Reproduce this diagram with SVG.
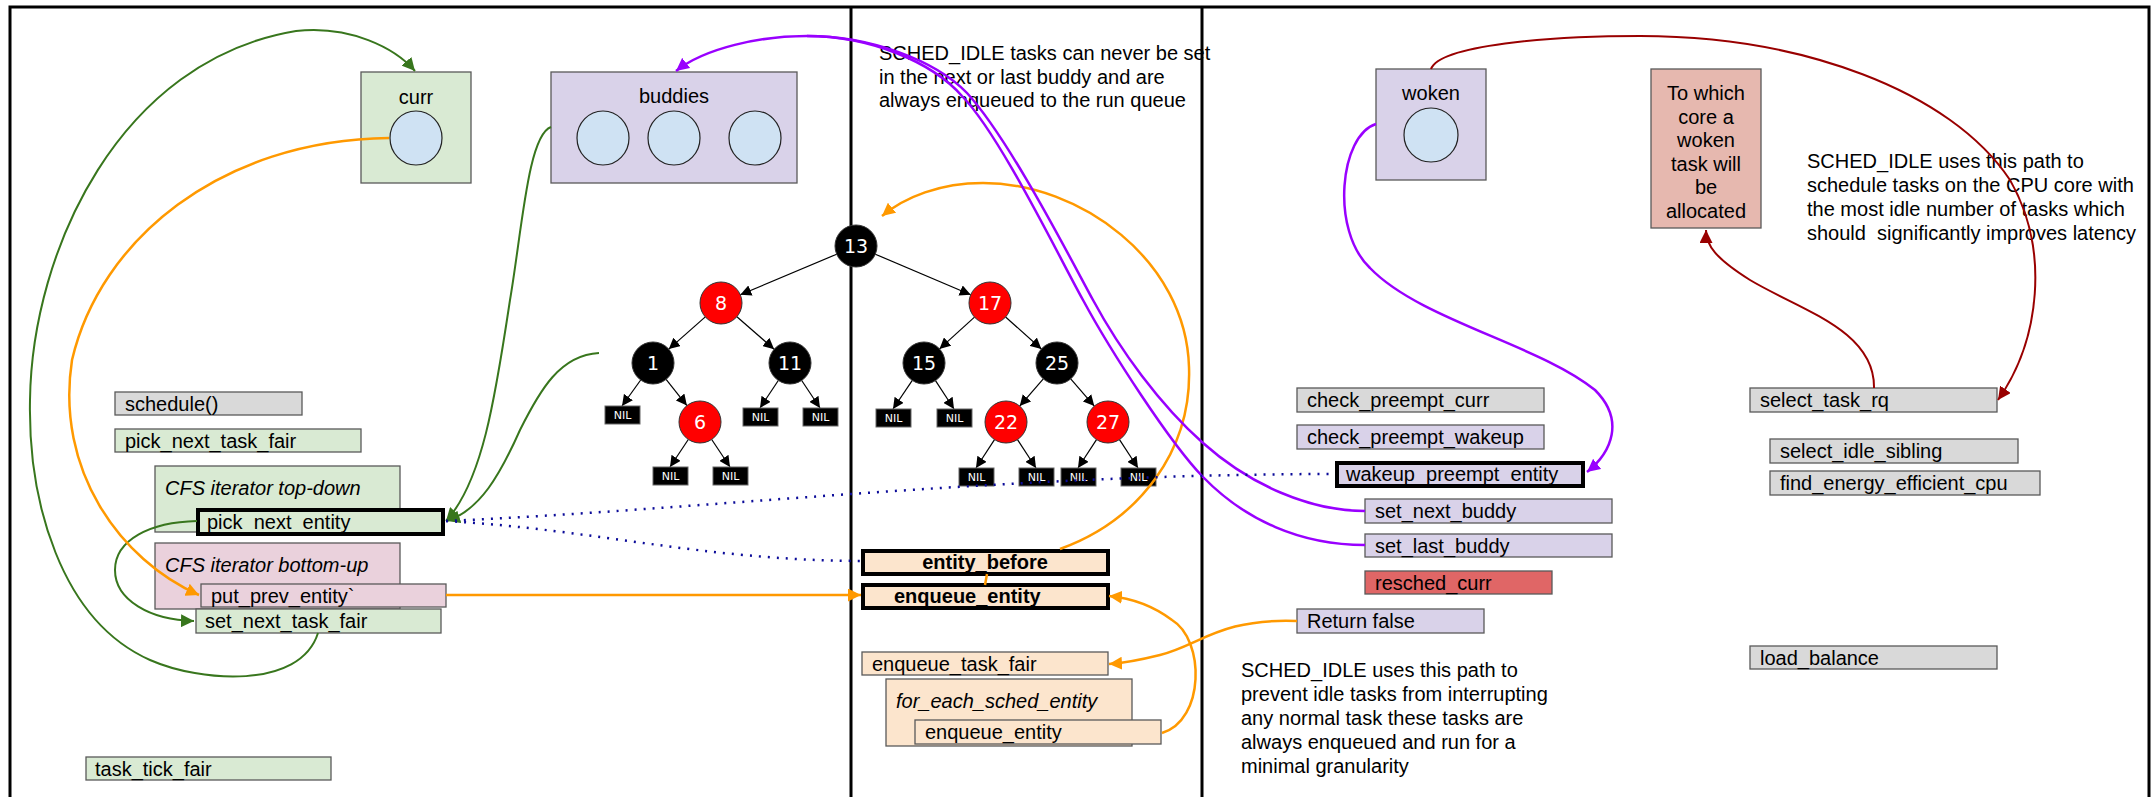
<svg xmlns="http://www.w3.org/2000/svg" width="2152" height="797" viewBox="0 0 2152 797">
<style>
.t{font-family:"Liberation Sans",Arial,sans-serif;font-size:20px;fill:#000}
.it{font-style:italic}
.bd{font-weight:bold}
.mid{text-anchor:middle}
.pre{white-space:pre}
.bx{stroke:#595959;stroke-width:1.3}
.tk{stroke:#000;stroke-width:4}
.gr{fill:#d9d9d9}.gn{fill:#d9ead3}.pu{fill:#d9d2e9}.pk{fill:#ead1dc}.pe{fill:#fce5cd}.rd{fill:#e06666}.sa{fill:#e6b8af}
.cir{fill:#cfe2f3;stroke:#222;stroke-width:1.2}
.nb{fill:#000;stroke:#333;stroke-width:1}
.nr{fill:#ff0000;stroke:#333;stroke-width:1}
.nt{font-family:"DejaVu Sans",sans-serif;font-size:19px;fill:#fff;text-anchor:middle}
.nil{fill:#000;stroke:#666;stroke-width:1}
.nilt{font-family:"DejaVu Sans",sans-serif;font-size:11px;fill:#fff;text-anchor:middle}
.te{stroke:#000;stroke-width:1.2;fill:none;marker-end:url(#ak)}
.cg{stroke:#38761d;stroke-width:2;fill:none}
.co{stroke:#ff9900;stroke-width:2.5;fill:none}
.cp{stroke:#9900ff;stroke-width:2.5;fill:none}
.cr{stroke:#990000;stroke-width:2;fill:none}
.cd{stroke:#0b0b99;stroke-width:2.5;fill:none;stroke-dasharray:2 7}
</style>
<defs>
<marker id="ak" viewBox="0 0 10 10" refX="10" refY="5" markerWidth="11" markerHeight="11" markerUnits="userSpaceOnUse" orient="auto"><path d="M0,0 L10,5 L0,10 z" fill="#000"/></marker>
<marker id="ag" viewBox="0 0 10 10" refX="10" refY="5" markerWidth="13" markerHeight="13" markerUnits="userSpaceOnUse" orient="auto"><path d="M0,0 L10,5 L0,10 z" fill="#38761d"/></marker>
<marker id="ao" viewBox="0 0 10 10" refX="10" refY="5" markerWidth="13" markerHeight="13" markerUnits="userSpaceOnUse" orient="auto"><path d="M0,0 L10,5 L0,10 z" fill="#ff9900"/></marker>
<marker id="ap" viewBox="0 0 10 10" refX="10" refY="5" markerWidth="13" markerHeight="13" markerUnits="userSpaceOnUse" orient="auto"><path d="M0,0 L10,5 L0,10 z" fill="#9900ff"/></marker>
<marker id="ar" viewBox="0 0 10 10" refX="10" refY="5" markerWidth="13" markerHeight="13" markerUnits="userSpaceOnUse" orient="auto"><path d="M0,0 L10,5 L0,10 z" fill="#990000"/></marker>
</defs>
<rect x="0" y="0" width="2152" height="797" fill="#fff"/>
<g id="frame" fill="none" stroke="#000" stroke-width="3">
<rect x="10" y="7" width="2139" height="800"/>
<line x1="851" y1="7" x2="851" y2="800"/>
<line x1="1202" y1="7" x2="1202" y2="800"/>
</g>

<g id="curr"><rect class="bx gn" x="361" y="72" width="110" height="111"/><text class="t mid" x="416" y="104">curr</text><ellipse class="cir" cx="416" cy="138" rx="26" ry="27"/></g>
<g id="buddies"><rect class="bx pu" x="551" y="72" width="246" height="111"/><text class="t mid" x="674" y="103">buddies</text><ellipse class="cir" cx="603" cy="138" rx="26" ry="27"/><ellipse class="cir" cx="674" cy="138" rx="26" ry="27"/><ellipse class="cir" cx="755" cy="138" rx="26" ry="27"/></g>
<g id="woken"><rect class="bx pu" x="1376" y="69" width="110" height="111"/><text class="t mid" x="1431" y="100">woken</text><ellipse class="cir" cx="1431" cy="135" rx="27" ry="27"/></g>
<g id="core-box"><rect class="bx sa" x="1651" y="69" width="110" height="159"/>
<text class="t mid" x="1706"><tspan x="1706" y="100">To which</tspan><tspan x="1706" y="124">core a</tspan><tspan x="1706" y="147">woken</tspan><tspan x="1706" y="171">task will</tspan><tspan x="1706" y="194">be</tspan><tspan x="1706" y="218">allocated</tspan></text></g>

<g id="note-top"><text class="t"><tspan x="879" y="60">SCHED_IDLE tasks can never be set</tspan><tspan x="879" y="84">in the next or last buddy and are</tspan><tspan x="879" y="107">always enqueued to the run queue</tspan></text></g>
<g id="note-right"><text class="t pre"><tspan x="1807" y="168">SCHED_IDLE uses this path to</tspan><tspan x="1807" y="192">schedule tasks on the CPU core with</tspan><tspan x="1807" y="216">the most idle number of tasks which</tspan><tspan x="1807" y="240">should  significantly improves latency</tspan></text></g>
<g id="note-bottom"><text class="t"><tspan x="1241" y="677">SCHED_IDLE uses this path to</tspan><tspan x="1241" y="701">prevent idle tasks from interrupting</tspan><tspan x="1241" y="725">any normal task these tasks are</tspan><tspan x="1241" y="749">always enqueued and run for a</tspan><tspan x="1241" y="773">minimal granularity</tspan></text></g>

<g id="schedule"><rect class="bx gr" x="115" y="392" width="187" height="23"/><text class="t" x="125" y="411">schedule()</text></g>
<g id="pick_next_task_fair"><rect class="bx gn" x="115" y="429" width="246" height="23"/><text class="t" x="125" y="448">pick_next_task_fair</text></g>
<g id="cfs-top-down"><rect class="bx gn" x="155" y="466" width="245" height="66"/><text class="t it" x="165" y="495">CFS iterator top-down</text></g>
<g id="pick_next_entity"><rect class="tk gn" x="198" y="510" width="245" height="24"/><text class="t" x="207" y="529">pick_next_entity</text></g>
<g id="cfs-bottom-up"><rect class="bx pk" x="155" y="543" width="245" height="66"/><text class="t it" x="165" y="572">CFS iterator bottom-up</text></g>
<g id="put_prev_entity"><rect class="bx pk" x="201" y="584" width="245" height="23"/><text class="t" x="211" y="603">put_prev_entity`</text></g>
<g id="set_next_task_fair"><rect class="bx gn" x="196" y="609" width="245" height="24"/><text class="t" x="205" y="628">set_next_task_fair</text></g>
<g id="task_tick_fair"><rect class="bx gn" x="86" y="757" width="245" height="23"/><text class="t" x="95" y="776">task_tick_fair</text></g>

<g id="entity_before"><rect class="tk pe" x="863" y="551" width="245" height="23"/><text class="t bd mid" x="985" y="569">entity_before</text></g>
<g id="enqueue_entity_main"><rect class="tk pe" x="863" y="585" width="245" height="23"/><text class="t bd" x="894" y="603">enqueue_entity</text></g>
<g id="enqueue_task_fair"><rect class="bx pe" x="862" y="652" width="246" height="23"/><text class="t" x="872" y="671">enqueue_task_fair</text></g>
<g id="for_each_sched_entity"><rect class="bx pe" x="886" y="679" width="246" height="67"/><text class="t it" x="896" y="708">for_each_sched_entity</text></g>
<g id="enqueue_entity_inner"><rect class="bx pe" x="915" y="720" width="246" height="24"/><text class="t" x="925" y="739">enqueue_entity</text></g>

<g id="check_preempt_curr"><rect class="bx gr" x="1297" y="388" width="247" height="24"/><text class="t" x="1307" y="407">check_preempt_curr</text></g>
<g id="check_preempt_wakeup"><rect class="bx pu" x="1297" y="425" width="247" height="24"/><text class="t" x="1307" y="444">check_preempt_wakeup</text></g>
<g id="wakeup_preempt_entity"><rect class="tk pu" x="1337" y="463" width="246" height="23"/><text class="t" x="1346" y="481">wakeup_preempt_entity</text></g>
<g id="set_next_buddy"><rect class="bx pu" x="1365" y="499" width="247" height="24"/><text class="t" x="1375" y="518">set_next_buddy</text></g>
<g id="set_last_buddy"><rect class="bx pu" x="1365" y="534" width="247" height="23"/><text class="t" x="1375" y="553">set_last_buddy</text></g>
<g id="resched_curr"><rect class="bx rd" x="1365" y="571" width="187" height="23"/><text class="t" x="1375" y="590">resched_curr</text></g>
<g id="return_false"><rect class="bx pu" x="1297" y="609" width="187" height="24"/><text class="t" x="1307" y="628">Return false</text></g>

<g id="select_task_rq"><rect class="bx gr" x="1750" y="388" width="247" height="24"/><text class="t" x="1760" y="407">select_task_rq</text></g>
<g id="select_idle_sibling"><rect class="bx gr" x="1770" y="439" width="248" height="24"/><text class="t" x="1780" y="458">select_idle_sibling</text></g>
<g id="find_energy_efficient_cpu"><rect class="bx gr" x="1770" y="471" width="270" height="24"/><text class="t" x="1780" y="490">find_energy_efficient_cpu</text></g>
<g id="load_balance"><rect class="bx gr" x="1750" y="646" width="247" height="23"/><text class="t" x="1760" y="665">load_balance</text></g>

<g id="rbtree">
<g id="tree-edges">
<line class="te" x1="836.7" y1="254.2" x2="740.3" y2="294.8"/>
<line class="te" x1="875.3" y1="254.2" x2="970.7" y2="294.8"/>
<line class="te" x1="705.3" y1="316.9" x2="668.8" y2="349.1"/>
<line class="te" x1="736.9" y1="316.8" x2="774.1" y2="349.2"/>
<line class="te" x1="640.7" y1="380" x2="622" y2="406"/>
<line class="te" x1="666.1" y1="379.4" x2="686.9" y2="405.6"/>
<line class="te" x1="778.3" y1="380.5" x2="760" y2="408"/>
<line class="te" x1="801.7" y1="380.5" x2="820" y2="408"/>
<line class="te" x1="688.3" y1="439.5" x2="670" y2="467"/>
<line class="te" x1="711.7" y1="439.5" x2="730" y2="467"/>
<line class="te" x1="974.5" y1="317.1" x2="939.5" y2="348.9"/>
<line class="te" x1="1005.6" y1="317" x2="1041.4" y2="349"/>
<line class="te" x1="912.3" y1="380.4" x2="893" y2="409"/>
<line class="te" x1="935.5" y1="380.6" x2="954" y2="409"/>
<line class="te" x1="1043.3" y1="378.9" x2="1019.7" y2="406.1"/>
<line class="te" x1="1070.7" y1="378.9" x2="1094.3" y2="406.1"/>
<line class="te" x1="994.5" y1="439.6" x2="976" y2="468"/>
<line class="te" x1="1017.5" y1="439.6" x2="1036" y2="468"/>
<line class="te" x1="1096.5" y1="439.6" x2="1078" y2="468"/>
<line class="te" x1="1119.5" y1="439.6" x2="1138" y2="468"/>
</g>
<g id="n13"><circle class="nb" cx="856" cy="246" r="21"/><text class="nt" x="856" y="253">13</text></g>
<g id="n8"><circle class="nr" cx="721" cy="303" r="21"/><text class="nt" x="721" y="310">8</text></g>
<g id="n17"><circle class="nr" cx="990" cy="303" r="21"/><text class="nt" x="990" y="310">17</text></g>
<g id="n1"><circle class="nb" cx="653" cy="363" r="21"/><text class="nt" x="653" y="370">1</text></g>
<g id="n11"><circle class="nb" cx="790" cy="363" r="21"/><text class="nt" x="790" y="370">11</text></g>
<g id="n15"><circle class="nb" cx="924" cy="363" r="21"/><text class="nt" x="924" y="370">15</text></g>
<g id="n25"><circle class="nb" cx="1057" cy="363" r="21"/><text class="nt" x="1057" y="370">25</text></g>
<g id="n6"><circle class="nr" cx="700" cy="422" r="21"/><text class="nt" x="700" y="429">6</text></g>
<g id="n22"><circle class="nr" cx="1006" cy="422" r="21"/><text class="nt" x="1006" y="429">22</text></g>
<g id="n27"><circle class="nr" cx="1108" cy="422" r="21"/><text class="nt" x="1108" y="429">27</text></g>
<g id="nils">
<rect class="nil" x="605" y="406" width="35" height="18"/><text class="nilt" x="622.5" y="419">NIL</text>
<rect class="nil" x="743" y="408" width="35" height="18"/><text class="nilt" x="760.5" y="421">NIL</text>
<rect class="nil" x="803" y="408" width="35" height="18"/><text class="nilt" x="820.5" y="421">NIL</text>
<rect class="nil" x="653" y="467" width="35" height="18"/><text class="nilt" x="670.5" y="480">NIL</text>
<rect class="nil" x="713" y="467" width="35" height="18"/><text class="nilt" x="730.5" y="480">NIL</text>
<rect class="nil" x="876" y="409" width="35" height="18"/><text class="nilt" x="893.5" y="422">NIL</text>
<rect class="nil" x="937" y="409" width="35" height="18"/><text class="nilt" x="954.5" y="422">NIL</text>
<rect class="nil" x="959" y="468" width="35" height="18"/><text class="nilt" x="976.5" y="481">NIL</text>
<rect class="nil" x="1019" y="468" width="35" height="18"/><text class="nilt" x="1036.5" y="481">NIL</text>
<rect class="nil" x="1061" y="468" width="35" height="18"/><text class="nilt" x="1078.5" y="481">NIL</text>
<rect class="nil" x="1121" y="468" width="35" height="18"/><text class="nilt" x="1138.5" y="481">NIL</text>
</g>
</g>

<g id="connectors">
<path class="cg" marker-end="url(#ag)" d="M318,633 C300,690 200,682 150,660 C60,620 28,500 30,400 C32,250 120,60 296,31 C350,25 395,48 415,71"/>
<path class="cg" marker-end="url(#ag)" d="M197,521 C150,522 115,540 115,570 C115,600 150,620 194,621"/>
<path class="cg" marker-end="url(#ag)" d="M551,127 C528,135 522,230 510,300 C495,400 482,482 446,521"/>
<path class="cg" marker-end="url(#ag)" d="M599,353 C560,355 540,390 520,430 C500,475 480,510 447,521"/>
<path class="co" marker-end="url(#ao)" d="M389,138 C220,140 100,240 72,360 C55,470 120,560 199,595"/>
<path class="co" marker-end="url(#ao)" d="M446,595 L861,595"/>
<path class="co" marker-end="url(#ao)" d="M1060,549 C1140,520 1192,450 1189,367 C1186,260 1080,183 983,183 C940,183 905,197 882,216"/>
<path class="co" d="M987,574 L985,585"/>
<path class="co" marker-end="url(#ao)" d="M1162,733 C1205,720 1205,640 1172,620 C1152,605 1130,598 1109,596"/>
<path class="co" marker-end="url(#ao)" d="M1297,621 C1220,618 1200,645 1160,655 C1140,660 1125,663 1109,664"/>
<path class="cp" marker-end="url(#ap)" d="M1365,511 C1310,511 1250,485 1203,443 C1160,405 1120,350 1093,300 C1070,258 1010,140 967,93 C935,60 870,36 807,36 C760,36 705,48 676,71"/>
<path class="cp" d="M1365,545 C1300,545 1245,520 1203,477 C1170,443 1110,350 1083,300 C1058,255 1000,135 962,96 C932,62 870,36 807,36"/>
<path class="cp" marker-end="url(#ap)" d="M1376,124 C1340,135 1330,230 1370,268 C1420,320 1540,345 1595,390 C1625,420 1612,452 1587,472"/>
<path class="cr" marker-end="url(#ar)" d="M1431,69 C1440,45 1550,36 1640,36 C1800,36 1950,90 2010,180 C2050,250 2040,340 1998,400"/>
<path class="cr" marker-end="url(#ar)" d="M1874,388 C1875,330 1800,310 1750,280 C1715,258 1706,245 1706,230"/>
<path class="cd" d="M446,521 C700,510 1000,474 1335,474"/>
<path class="cd" d="M446,521 C600,530 700,560 861,561"/>
</g>
</svg>
